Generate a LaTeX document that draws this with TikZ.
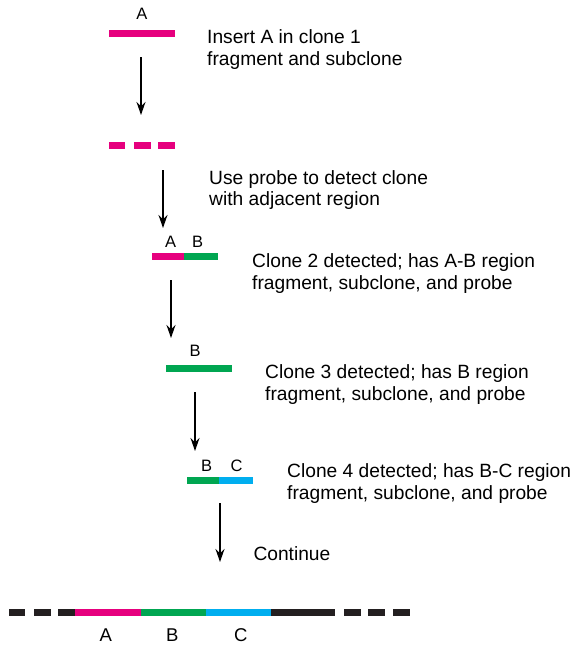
\documentclass[tikz,border=0pt]{standalone}
\usepackage{fontspec}
\setmainfont{Liberation Sans}
\usetikzlibrary{arrows.meta}

\definecolor{regA}{HTML}{E6007E}
\definecolor{regB}{HTML}{00A651}
\definecolor{regC}{HTML}{00AEEF}
\definecolor{chrom}{HTML}{231F20}

\begin{document}
\begin{tikzpicture}[x=1pt,y=-1pt,
  seg/.style={line width=7pt},
  lbl/.style={inner sep=0pt,font=\fontsize{16.5}{18}\selectfont},
  note/.style={anchor=base west,align=left,inner sep=0pt,font=\fontsize{19.2}{21.7}\selectfont},
  walk/.style={line width=1.3pt,-{Stealth[length=13pt,width=9pt]}}]
  \useasboundingbox (0,0) rectangle (575,645);
  % clone 1 with insert A
  \draw[seg,regA] (109,33.5) -- (175,33.5);
  \node[lbl] (lA1) at (142,13.7) {A};
  \node[note] (n1) at (207,65) {Insert A in clone 1\\fragment and subclone};
  % subcloned fragments used as probe
  \foreach \a/\b in {109/125,134/151,158/175}
    \draw[seg,regA] (\a,145.5) -- (\b,145.5);
  \node[note] (n2) at (209,205.7) {Use probe to detect clone\\with adjacent region};
  % clone 2: A-B
  \draw[seg,regA] (152,256.3) -- (184,256.3);
  \draw[seg,regB] (184,256.3) -- (218,256.3);
  \node[lbl] (lA2) at (170.7,241.8) {A};
  \node[lbl] (lB2) at (197.7,241.8) {B};
  \node[note] (n3) at (252,289.4) {Clone 2 detected; has A-B region\\fragment, subclone, and probe};
  % clone 3: B
  \draw[seg,regB] (166,368.5) -- (232,368.5);
  \node[lbl] (lB3) at (195,350.8) {B};
  \node[note] (n4) at (265,400) {Clone 3 detected; has B region\\fragment, subclone, and probe};
  % clone 4: B-C
  \draw[seg,regB] (187,480.7) -- (219,480.7);
  \draw[seg,regC] (219,480.7) -- (253,480.7);
  \node[lbl] (lB4) at (206.7,466) {B};
  \node[lbl] (lC4) at (236.7,466) {C};
  \node[note] (n5) at (287,499.4) {Clone 4 detected; has B-C region\\fragment, subclone, and probe};
  \node[note] (n6) at (253.3,560.7) {Continue};
  % walking steps
  \foreach \i/\x/\ys/\ye in {1/141/57/115,2/163/170/228,3/171/280/338,4/195/392/451,5/220/503/562}{
    \coordinate (s\i) at (\x,\ys);
    \coordinate (e\i) at (\x,\ye);
    \draw[walk] (s\i) -- (e\i);
  }
  % assembled chromosome region
  \foreach \a/\b in {9/25,34/51,344/361,368/385,393/410}
    \draw[seg,chrom] (\a,612) -- (\b,612);
  \draw[seg,chrom] (58,612) -- (75,612);
  \draw[seg,regA] (75,612) -- (141,612);
  \draw[seg,regB] (141,612) -- (206,612);
  \draw[seg,regC] (206,612) -- (271,612);
  \draw[seg,chrom] (271,612) -- (335,612);
  \node[lbl,font=\fontsize{18.5}{20}\selectfont] (lA) at (105.7,634.7) {A};
  \node[lbl,font=\fontsize{18.5}{20}\selectfont] (lB) at (172.3,634.7) {B};
  \node[lbl,font=\fontsize{18.5}{20}\selectfont] (lC) at (240.7,634.7) {C};
\end{tikzpicture}
\end{document}
